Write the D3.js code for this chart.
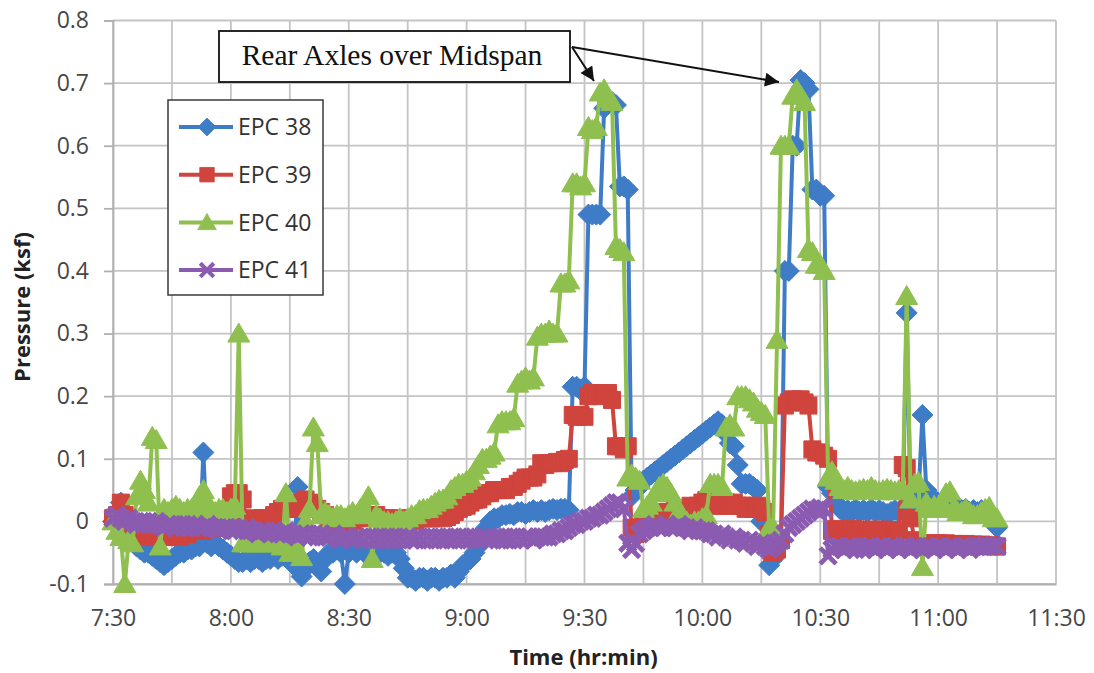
<!DOCTYPE html>
<html>
<head>
<meta charset="utf-8">
<script src="https://cdn.jsdelivr.net/npm/d3@7"></script>
<style>
  body { margin: 0; background: #fff; }
  svg { display: block; }
</style>
</head>
<body>
<svg id="chart" width="1094" height="673"></svg>
<script>
// Pressure readings (ksf), one sample per minute starting at 7:30.
const startMinute = 450; // 7:30 expressed in minutes after midnight

const seriesNames = ["EPC 38", "EPC 39", "EPC 40", "EPC 41"];

const epc38 = [
  0.0, 0.015, 0.03, 0.01, -0.02, -0.03, -0.04, -0.045, -0.05, -0.05,
  -0.055, -0.06, -0.065, -0.07, -0.065, -0.06, -0.055, -0.05, -0.05, -0.045,
  -0.045, -0.04, -0.04, 0.11, -0.035, -0.04, -0.035, -0.04, -0.045, -0.05,
  -0.055, -0.06, -0.065, -0.065, -0.06, -0.065, -0.06, -0.06, -0.065, -0.06,
  -0.06, -0.055, -0.06, -0.055, -0.05, -0.06, -0.07, 0.055, -0.088, -0.075,
  -0.065, -0.06, -0.07, -0.08, -0.06, -0.05, -0.05, -0.045, -0.05, -0.1,
  -0.05, -0.045, -0.05, -0.045, -0.05, -0.055, -0.05, -0.045, -0.05, -0.05,
  -0.055, -0.05, -0.05, -0.06, -0.075, -0.09, -0.09, -0.095, -0.09, -0.09,
  -0.095, -0.09, -0.09, -0.095, -0.09, -0.09, -0.085, -0.09, -0.08, -0.07,
  -0.065, -0.06, -0.05, -0.04, -0.025, -0.01, 0.0, 0.005, 0.005, 0.01,
  0.01, 0.012, 0.01, 0.015, 0.015, 0.012, 0.015, 0.018, 0.015, 0.018,
  0.015, 0.018, 0.02, 0.018, 0.02, 0.02, 0.018, 0.215, 0.215, 0.21,
  0.215, 0.49, 0.49, 0.49, 0.49, 0.66, 0.67, 0.67, 0.665, 0.535,
  0.535, 0.53, 0.04, 0.05, 0.055, 0.065, 0.07, 0.075, 0.08, 0.085,
  0.09, 0.095, 0.1, 0.105, 0.11, 0.115, 0.12, 0.125, 0.13, 0.135,
  0.14, 0.145, 0.15, 0.155, 0.16, 0.155, 0.14, 0.125, 0.12, 0.09,
  0.06, 0.06, 0.06, 0.055, 0.05, 0.0, -0.04, -0.07, -0.06, -0.04,
  -0.03, 0.4, 0.4, 0.6, 0.6, 0.705, 0.7, 0.69, 0.53, 0.53,
  0.52, 0.52, 0.055, 0.045, 0.03, 0.02, 0.015, 0.018, 0.015, 0.02,
  0.015, 0.018, 0.015, 0.02, 0.015, 0.018, 0.015, 0.012, 0.015, 0.018,
  0.015, 0.018, 0.333, 0.02, 0.025, 0.04, 0.17, 0.05, 0.04, 0.035,
  0.03, 0.03, 0.025, 0.025, 0.02, 0.02, 0.018, 0.02, 0.015, 0.018,
  0.015, 0.018, 0.015, 0.01, 0.0, -0.01
];

const epc39 = [
  0.005, 0.01, 0.03, 0.01, -0.005, -0.015, -0.02, -0.02, -0.025, -0.02,
  -0.02, -0.025, -0.02, -0.025, -0.02, -0.025, -0.02, -0.025, -0.02, -0.02,
  -0.015, -0.015, -0.01, -0.015, -0.01, -0.01, -0.01, -0.005, -0.01, -0.005,
  0.04, 0.045, 0.045, 0.035, 0.0, 0.0, 0.005, 0.0, 0.005, 0.0,
  0.005, 0.01, 0.015, 0.02, 0.02, 0.025, 0.02, 0.025, 0.03, 0.035,
  0.03, 0.025, 0.02, 0.015, 0.01, 0.005, 0.0, 0.0, -0.005, -0.01,
  -0.005, 0.0, 0.005, 0.005, 0.01, 0.01, 0.01, 0.01, 0.005, 0.005,
  0.005, 0.0, 0.0, 0.005, 0.0, 0.0, 0.005, 0.0, 0.005, 0.005,
  0.005, 0.005, 0.005, 0.007, 0.005, 0.007, 0.01, 0.015, 0.02, 0.023,
  0.025, 0.03, 0.034, 0.035, 0.04, 0.045, 0.045, 0.05, 0.05, 0.05,
  0.05, 0.055, 0.055, 0.06, 0.065, 0.07, 0.07, 0.07, 0.075, 0.093,
  0.09, 0.093, 0.093, 0.095, 0.093, 0.098, 0.1, 0.17, 0.167, 0.17,
  0.167, 0.2, 0.205, 0.205, 0.2, 0.205, 0.205, 0.194, 0.12, 0.12,
  0.115, 0.12, -0.01, -0.02, -0.01, 0.0, 0.005, 0.005, 0.01, 0.01,
  0.01, 0.015, 0.015, 0.02, 0.015, 0.02, 0.02, 0.025, 0.02, 0.025,
  0.03, 0.034, 0.03, 0.025, 0.03, 0.025, 0.03, 0.025, 0.03, 0.025,
  0.025, 0.02, 0.025, 0.02, 0.025, 0.02, 0.015, -0.02, -0.05, -0.045,
  -0.03, 0.185, 0.19, 0.195, 0.19, 0.195, 0.19, 0.185, 0.115, 0.11,
  0.11, 0.105, 0.1, -0.015, -0.012, -0.015, -0.014, -0.015, -0.012, -0.015,
  -0.014, -0.015, -0.013, -0.015, -0.014, -0.015, -0.013, -0.015, -0.014, -0.015,
  -0.015, 0.09, 0.085, 0.005, -0.03, -0.035, -0.035, -0.038, -0.035, -0.036,
  -0.035, -0.037, -0.035, -0.038, -0.036, -0.037, -0.038, -0.036, -0.038, -0.037,
  -0.038, -0.037, -0.039, -0.038, -0.04, -0.04
];

const epc40 = [
  0.0, -0.015, -0.025, -0.1, -0.03, -0.035, 0.04, 0.065, 0.05, 0.03,
  0.135, 0.13, -0.04, 0.02, 0.015, 0.02, 0.025, 0.02, 0.015, 0.02,
  0.02, 0.025, 0.04, 0.05, 0.03, 0.02, 0.015, 0.02, 0.02, 0.015,
  0.02, 0.025, 0.3, -0.035, -0.035, -0.03, -0.035, -0.035, -0.03, -0.035,
  -0.035, -0.03, -0.035, -0.04, 0.045, -0.05, -0.05, -0.045, -0.057, 0.0,
  0.02, 0.15, 0.125, 0.01, 0.015, 0.01, 0.005, 0.01, 0.01, 0.005,
  0.01, 0.015, 0.01, 0.02, 0.015, 0.04, -0.06, 0.01, 0.005, 0.0,
  0.0, -0.003, 0.0, 0.005, 0.0, 0.005, 0.01, 0.01, 0.018, 0.02,
  0.02, 0.025, 0.03, 0.034, 0.035, 0.04, 0.05, 0.055, 0.06, 0.06,
  0.065, 0.07, 0.08, 0.09, 0.1, 0.1, 0.105, 0.11, 0.155, 0.16,
  0.16, 0.16, 0.165, 0.22, 0.225, 0.23, 0.225, 0.23, 0.295, 0.3,
  0.3, 0.305, 0.3, 0.3, 0.38, 0.38, 0.385, 0.54, 0.54, 0.535,
  0.54, 0.63, 0.625, 0.63, 0.685, 0.69, 0.675, 0.67, 0.44, 0.435,
  0.43, 0.07, 0.075, 0.07, 0.065, 0.02, 0.025, 0.03, 0.045, 0.055,
  0.06, 0.055, 0.045, 0.03, 0.015, 0.005, 0.0, -0.005, 0.0, 0.0,
  0.005, 0.01, 0.06, 0.06, 0.06, 0.055, 0.15, 0.155, 0.15, 0.2,
  0.2, 0.2, 0.195, 0.19, 0.18, 0.175, 0.17, -0.01, -0.01, 0.29,
  0.6, 0.6, 0.6, 0.68, 0.69, 0.68, 0.67, 0.435, 0.43, 0.41,
  0.41, 0.4, 0.07, 0.08, 0.065, 0.055, 0.05, 0.055, 0.05, 0.048,
  0.05, 0.052, 0.05, 0.055, 0.05, 0.048, 0.05, 0.052, 0.05, 0.048,
  0.05, 0.05, 0.36, 0.035, 0.06, 0.063, -0.073, 0.03, 0.02, 0.025,
  0.02, 0.03, 0.045, 0.048, 0.02, 0.015, 0.015, 0.02, 0.015, 0.01,
  0.01, 0.015, 0.02, 0.023, 0.005, 0.005
];

const epc41 = [
  0.005, 0.01, 0.005, 0.0, 0.005, 0.0, -0.005, 0.0, -0.005, 0.0,
  -0.005, 0.0, -0.005, -0.01, -0.005, -0.005, -0.01, -0.005, -0.01, -0.005,
  -0.01, -0.005, -0.01, -0.01, -0.005, -0.01, -0.01, -0.015, -0.01, -0.01,
  -0.01, -0.015, -0.01, -0.015, -0.01, -0.015, -0.015, -0.02, -0.015, -0.015,
  -0.02, -0.015, -0.02, -0.02, -0.015, -0.02, -0.02, -0.025, -0.02, -0.02,
  -0.025, -0.02, -0.025, -0.02, -0.025, -0.025, -0.02, -0.025, -0.03, -0.025,
  -0.025, -0.03, -0.025, -0.025, -0.03, -0.025, -0.03, -0.025, -0.03, -0.025,
  -0.03, -0.025, -0.03, -0.025, -0.03, -0.025, -0.03, -0.03, -0.025, -0.03,
  -0.025, -0.03, -0.025, -0.03, -0.025, -0.03, -0.025, -0.03, -0.025, -0.03,
  -0.025, -0.03, -0.025, -0.03, -0.025, -0.025, -0.03, -0.025, -0.03, -0.025,
  -0.03, -0.025, -0.03, -0.025, -0.03, -0.025, -0.025, -0.03, -0.025, -0.025,
  -0.025, -0.025, -0.02, -0.02, -0.015, -0.015, -0.01, -0.005, -0.005, 0.0,
  0.0, 0.005, 0.005, 0.01, 0.01, 0.015, 0.02, 0.025, 0.03, 0.03,
  0.02, -0.035, -0.045, -0.035, -0.02, -0.015, -0.01, -0.01, -0.005, -0.01,
  -0.01, -0.005, -0.01, -0.01, -0.005, -0.01, -0.01, -0.015, -0.01, -0.015,
  -0.015, -0.015, -0.02, -0.02, -0.025, -0.02, -0.025, -0.03, -0.025, -0.03,
  -0.03, -0.035, -0.03, -0.035, -0.04, -0.035, -0.04, -0.045, -0.04, -0.035,
  -0.03, -0.02, -0.01, -0.005, 0.0, 0.005, 0.01, 0.015, 0.02, 0.018,
  0.022, 0.02, -0.055, -0.045, -0.04, -0.04, -0.045, -0.04, -0.04, -0.045,
  -0.04, -0.045, -0.04, -0.04, -0.045, -0.04, -0.04, -0.045, -0.04, -0.04,
  -0.045, -0.04, -0.04, -0.045, -0.04, -0.04, -0.045, -0.04, -0.04, -0.045,
  -0.04, -0.04, -0.045, -0.04, -0.04, -0.045, -0.04, -0.04, -0.045, -0.04,
  -0.04, -0.04, -0.038, -0.04, -0.038, -0.04
];

const yTicks = [-0.1, 0, 0.1, 0.2, 0.3, 0.4, 0.5, 0.6, 0.7, 0.8];
const yTickLabels = ["-0.1", "0", "0.1", "0.2", "0.3", "0.4", "0.5", "0.6", "0.7", "0.8"];
const xTickMinutes = [450, 480, 510, 540, 570, 600, 630, 660, 690];
const xTickLabels = ["7:30", "8:00", "8:30", "9:00", "9:30", "10:00", "10:30", "11:00", "11:30"];
const gridMinutes = [450, 465, 480, 495, 510, 525, 540, 555, 570, 585, 600, 615, 630, 645, 660, 675, 690];

const annotationText = "Rear Axles over Midspan";

// ---------------------------------------------------------------------------
const plot = { left: 113, right: 1056, top: 20.5, bottom: 584 };

const svg = d3.select("#chart");
const x = d3.scaleLinear().domain([450, 690]).range([plot.left, plot.right]);
const y = d3.scaleLinear().domain([-0.1, 0.8]).range([plot.bottom, plot.top]);

const tickFont = "'Open Sans', 'Liberation Sans', sans-serif";
const gridColor = "#c4c4c4";

// Gridlines
const grid = svg.append("g");
grid.selectAll("line.h").data(yTicks).join("line")
  .attr("class", "h")
  .attr("x1", plot.left).attr("x2", plot.right)
  .attr("y1", d => y(d)).attr("y2", d => y(d))
  .attr("stroke", gridColor).attr("stroke-width", 1.8);
grid.selectAll("line.v").data(gridMinutes).join("line")
  .attr("class", "v")
  .attr("x1", d => x(d)).attr("x2", d => x(d))
  .attr("y1", plot.top).attr("y2", plot.bottom)
  .attr("stroke", gridColor).attr("stroke-width", 1.8);

// Y axis
const yAxis = svg.append("g")
  .attr("transform", `translate(${plot.left},0)`)
  .call(d3.axisLeft(y).tickValues(yTicks).tickSize(9).tickPadding(15)
    .tickFormat((d, i) => yTickLabels[i]));
yAxis.select(".domain").attr("stroke", "#b0b0b0").attr("stroke-width", 1.8);
yAxis.selectAll(".tick line").attr("stroke", "#b0b0b0").attr("stroke-width", 1.8);
yAxis.selectAll(".tick text")
  .attr("font-family", tickFont).attr("font-size", 23).attr("fill", "#474747");

// X axis
const xAxis = svg.append("g")
  .attr("transform", `translate(0,${plot.bottom})`)
  .call(d3.axisBottom(x).tickValues(xTickMinutes).tickSize(0).tickPadding(26)
    .tickFormat((d, i) => xTickLabels[i]));
xAxis.select(".domain").attr("stroke", "#b0b0b0").attr("stroke-width", 1.8);
xAxis.selectAll(".tick text")
  .attr("font-family", tickFont).attr("font-size", 23).attr("fill", "#474747");

// Axis titles
svg.append("text")
  .attr("x", (plot.left + plot.right) / 2 - 1).attr("y", 665)
  .attr("text-anchor", "middle")
  .attr("font-family", tickFont).attr("font-weight", "bold")
  .attr("font-size", 22).attr("fill", "#222")
  .text("Time (hr:min)");
svg.append("text")
  .attr("transform", "translate(30,307) rotate(-90)")
  .attr("text-anchor", "middle")
  .attr("font-family", tickFont).attr("font-weight", "bold")
  .attr("font-size", 22).attr("fill", "#222")
  .text("Pressure (ksf)");

// Marker shapes
const markerPaths = {
  diamond: "M0,-10.5L10.5,0L0,10.5L-10.5,0Z",
  square: "M-8.5,-8.5H8.5V8.5H-8.5Z",
  triangle: "M0,-10.5L11,8.5L-11,8.5Z",
  cross: "M-8,-8L8,8M8,-8L-8,8"
};

const series = [
  { name: seriesNames[0], values: epc38, color: "#3f7cc7", marker: "diamond" },
  { name: seriesNames[1], values: epc39, color: "#d0443e", marker: "square" },
  { name: seriesNames[2], values: epc40, color: "#8fc04f", marker: "triangle" },
  { name: seriesNames[3], values: epc41, color: "#8b5bb1", marker: "cross" }
];

function drawMarker(sel, s) {
  if (s.marker === "cross") {
    sel.attr("d", markerPaths.cross).attr("fill", "none")
      .attr("stroke", s.color).attr("stroke-width", 4.8);
  } else {
    sel.attr("d", markerPaths[s.marker]).attr("fill", s.color)
      .attr("stroke", s.color).attr("stroke-width", 1);
  }
}

const line = d3.line()
  .x((d, i) => x(startMinute + i))
  .y(d => y(d));

const dataLayer = svg.append("g");
series.forEach(s => {
  const g = dataLayer.append("g");
  g.append("path")
    .datum(s.values)
    .attr("d", line)
    .attr("fill", "none")
    .attr("stroke", s.color)
    .attr("stroke-width", 4)
    .attr("stroke-linejoin", "round");
  g.selectAll("path.m").data(s.values).join("path")
    .attr("class", "m")
    .attr("transform", (d, i) => `translate(${x(startMinute + i)},${y(d)})`)
    .call(drawMarker, s);
});

// Legend
const legend = svg.append("g");
legend.append("rect")
  .attr("x", 168).attr("y", 100).attr("width", 155).attr("height", 195)
  .attr("fill", "#fff").attr("stroke", "#3a3a3a").attr("stroke-width", 1.5);
series.forEach((s, i) => {
  const cy = 127 + i * 47.7;
  const row = legend.append("g");
  row.append("line")
    .attr("x1", 179).attr("x2", 233).attr("y1", cy).attr("y2", cy)
    .attr("stroke", s.color).attr("stroke-width", 4);
  row.append("path")
    .attr("transform", `translate(207,${cy}) scale(0.85)`)
    .call(drawMarker, s);
  row.append("text")
    .attr("x", 238).attr("y", cy).attr("dy", "0.36em")
    .attr("font-family", tickFont).attr("font-size", 23).attr("fill", "#333")
    .text(s.name);
});

// Annotation box with arrows
const defs = svg.append("defs");
defs.append("marker")
  .attr("id", "arrowhead")
  .attr("viewBox", "0 0 10 10")
  .attr("refX", 10).attr("refY", 5)
  .attr("markerWidth", 8).attr("markerHeight", 7)
  .attr("markerUnits", "strokeWidth")
  .attr("orient", "auto")
  .append("path").attr("d", "M0,0L10,5L0,10Z").attr("fill", "#111");

const note = svg.append("g");
note.append("rect")
  .attr("x", 219).attr("y", 31).attr("width", 351).attr("height", 51)
  .attr("fill", "#fff").attr("stroke", "#111").attr("stroke-width", 1.8);
note.append("text")
  .attr("x", 392).attr("y", 65)
  .attr("text-anchor", "middle")
  .attr("font-family", "'Liberation Serif', 'DejaVu Serif', serif")
  .attr("font-size", 29.5).attr("fill", "#111")
  .text(annotationText);
const arrowStart = [572, 47];
const arrowEnds = [[594, 81], [779, 82]];
arrowEnds.forEach(e => {
  note.append("line")
    .attr("x1", arrowStart[0]).attr("y1", arrowStart[1])
    .attr("x2", e[0]).attr("y2", e[1])
    .attr("stroke", "#111").attr("stroke-width", 2)
    .attr("marker-end", "url(#arrowhead)");
});
</script>
</body>
</html>
